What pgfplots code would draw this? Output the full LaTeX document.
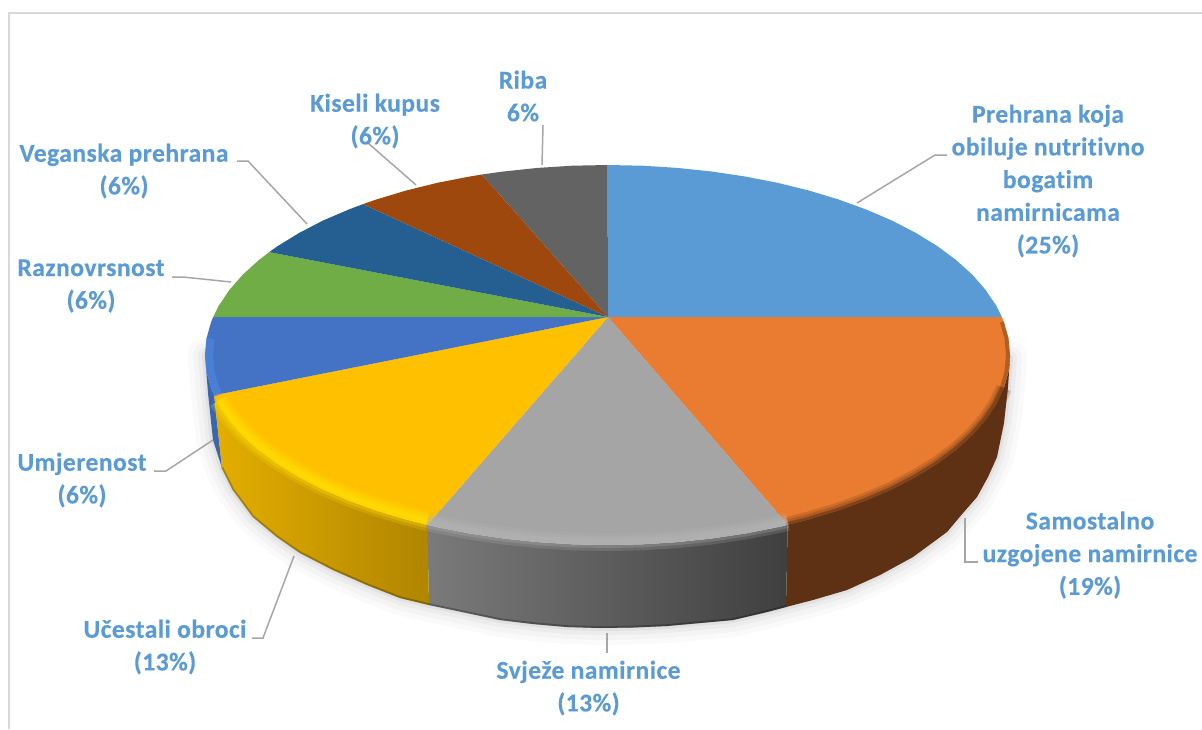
\documentclass[border=0pt]{standalone}
\usepackage{fontspec}
\setmainfont{Carlito}[LetterSpace=1.8,Ligatures=NoCommon,BoldFeatures={FakeBold=0.4}]
\usepackage{pgfplots}
\usepackage{pgfplotstable}
\pgfplotsset{compat=1.18}

\definecolor{lbl}{HTML}{5B9BD5}
\definecolor{lead}{HTML}{A6A6A6}
\definecolor{frm}{HTML}{D9D9D9}
\definecolor{c1}{HTML}{5B9BD5}
\definecolor{c2}{HTML}{E97C30}
\definecolor{c3}{HTML}{A5A5A5}
\definecolor{c4}{HTML}{FFC000}
\definecolor{c5}{HTML}{4472C4}
\definecolor{c6}{HTML}{70AD47}
\definecolor{c7}{HTML}{255E91}
\definecolor{c8}{HTML}{9E480E}
\definecolor{c9}{HTML}{636363}
\definecolor{side2}{HTML}{5F3114}
\definecolor{side5}{HTML}{3A66B0}
\definecolor{sideYL}{HTML}{E4AE00}
\definecolor{sideYR}{HTML}{B08500}
\definecolor{sideGL}{HTML}{7A7A7A}
\definecolor{sideGR}{HTML}{3F3F3F}
\definecolor{hiY}{HTML}{FFE100}
\definecolor{hiB}{HTML}{5087E1}
\definecolor{hiG}{HTML}{B8B8B8}

% slices of the top face: first row is the pie centre, pixel coordinates
\pgfplotstableread{
x y
608 317
607.5 165
642.6 165.7
677.4 167.9
711.7 171.5
745.2 176.5
777.6 182.8
808.8 190.5
838.4 199.4
866.2 209.5
892.1 220.6
915.8 232.9
937.2 246.0
956.1 260
972.3 274.7
985.7 290
996.3 305.8
1001.9 317.1
}\sliceA
\pgfplotstableread{
x y
608 317
1001.9 317.1
1003.9 322.0
1008.5 338.4
1010 355
1008.5 371.6
1003.9 388
996.3 404.2
985.7 420
972.3 435.3
956.1 450
937.2 464
915.8 477.1
892.1 489.4
866.2 500.5
838.4 510.6
808.8 519.5
787.7 524.9
}\sliceB
\pgfplotstableread{
x y
608 317
787.7 524.9
777.6 527.2
745.2 533.5
711.7 538.5
677.4 542.1
642.6 544.3
607.5 545
572.4 544.3
537.6 542.1
503.3 538.5
469.8 533.5
437.4 527.2
427.3 524.9
}\sliceC
\pgfplotstableread{
x y
608 317
427.3 524.9
406.2 519.5
376.6 510.6
348.8 500.5
322.9 489.4
299.2 477.1
277.8 464
258.9 450
242.7 435.3
229.3 420
218.7 404.2
214.1 395.2
}\sliceD
\pgfplotstableread{
x y
608 317
214.1 395.2
211.1 388
206.5 371.6
205 355
206.5 338.4
211.1 322
213.1 317.1
}\sliceE
\pgfplotstableread{
x y
608 317
213.1 317.1
218.7 305.8
229.3 290
242.7 274.7
258.9 260
269.2 252.1
}\sliceF
\pgfplotstableread{
x y
608 317
269.2 252.1
277.8 246
299.2 232.9
322.9 220.6
348.8 209.5
363 204.1
}\sliceG
\pgfplotstableread{
x y
608 317
363 204.1
376.6 199.4
406.2 190.5
437.4 182.8
469.8 176.5
481.8 174.5
}\sliceH
\pgfplotstableread{
x y
608 317
481.8 174.5
503.3 171.5
537.6 167.9
572.4 165.7
607.5 165
}\sliceI

% lower outline of the pie body
\pgfplotstableread{
x y
205 355
208 393
213 440
222 468
233 490
253 517
277 537
300 553
333 570
367 585
400 598
429 605
467 613
500 620
533 624
567 627
600 628
633 627.5
667 626
700 623
733 620
767 612
786 607
813 600
847 590
880 575
913 557
947 532
963 513
977 497
988 477
997 457
1004 423
1008 387
1010 358
}\outline

\begin{document}
\begin{tikzpicture}
\begin{axis}[
    scale only axis,
    width=601pt,
    height=364.5pt,
    xmin=0, xmax=1202,
    ymin=0, ymax=729,
    y dir=reverse,
    hide axis,
]

% keeps the page as large as the axis
\addplot[draw=none] coordinates {(0,0) (1202,729)};
\path (axis cs:0,0) rectangle (axis cs:1202,729);

% chart frame
\addplot[frm, line width=1pt] coordinates {(8.5,729) (8.5,13) (1202,13)};

% soft shadow
\addplot[gray, opacity=0.04, line width=17pt, line join=round, line cap=round] table[x=x,y=y] {\outline};
\addplot[gray, opacity=0.05, line width=12pt, line join=round, line cap=round] table[x=x,y=y] {\outline};
\addplot[gray, opacity=0.07, line width=7pt, line join=round, line cap=round] table[x=x,y=y] {\outline};
\addplot[gray, opacity=0.10, line width=3pt, line join=round, line cap=round] table[x=x,y=y] {\outline};

% side walls
\addplot[fill=side5, draw=none] coordinates {
    (205,355) (206.5,371.6) (211.1,388) (214.1,395.2) (222,468) (213,440) (208,393)
};
\addplot[fill=side2, draw=none] coordinates {
    (1010,355) (1008.5,371.6) (1003.9,388) (996.3,404.2) (985.7,420) (972.3,435.3) (956.1,450)
    (937.2,464) (915.8,477.1) (892.1,489.4) (866.2,500.5) (838.4,510.6) (808.8,519.5) (787.7,524.9)
    (786,607) (813,600) (847,590) (880,575) (913,557) (947,532) (963,513) (977,497) (988,477)
    (997,457) (1004,423) (1008,387) (1010,358)
};
\addplot[left color=sideGL, right color=sideGR, draw=none] coordinates {
    (787.7,524.9) (777.6,527.2) (745.2,533.5) (711.7,538.5) (677.4,542.1) (642.6,544.3) (607.5,545)
    (572.4,544.3) (537.6,542.1) (503.3,538.5) (469.8,533.5) (437.4,527.2) (427.3,524.9)
    (429,605) (467,613) (500,620) (533,624) (567,627) (600,628) (633,627.5) (667,626) (700,623)
    (733,620) (767,612) (786,607)
};
\addplot[left color=sideYL, right color=sideYR, draw=none] coordinates {
    (427.3,524.9) (406.2,519.5) (376.6,510.6) (348.8,500.5) (322.9,489.4) (299.2,477.1) (277.8,464)
    (258.9,450) (242.7,435.3) (229.3,420) (218.7,404.2) (214.1,395.2)
    (222,468) (233,490) (253,517) (277,537) (300,553) (333,570) (367,585) (400,598) (429,605)
};
% darker lower edge of the grey and yellow walls
\addplot[black, opacity=0.25, line width=1pt, yshift=0.4pt, skip coords between index={0}{3}, skip coords between index={23}{35}] table[x=x,y=y] {\outline};

% top face
\addplot[fill=c1, draw=none] table[x=x,y=y] {\sliceA};
\addplot[fill=c2, draw=none] table[x=x,y=y] {\sliceB};
\addplot[fill=c3, draw=none] table[x=x,y=y] {\sliceC};
\addplot[fill=c4, draw=none] table[x=x,y=y] {\sliceD};
\addplot[fill=c5, draw=none] table[x=x,y=y] {\sliceE};
\addplot[fill=c6, draw=none] table[x=x,y=y] {\sliceF};
\addplot[fill=c7, draw=none] table[x=x,y=y] {\sliceG};
\addplot[fill=c8, draw=none] table[x=x,y=y] {\sliceH};
\addplot[fill=c9, draw=none] table[x=x,y=y] {\sliceI};

% rim of the top face
\addplot[side2, opacity=0.2, line width=8pt, skip coords between index={0}{6}] table[x=x,y=y] {\sliceB};
\addplot[side2, opacity=0.25, line width=5.5pt, skip coords between index={0}{6}] table[x=x,y=y] {\sliceB};
\addplot[side2, opacity=0.3, line width=3pt, skip coords between index={0}{6}] table[x=x,y=y] {\sliceB};
\addplot[side2, opacity=0.4, line width=2pt, xshift=-1pt, skip coords between index={0}{2}] table[x=x,y=y] {\sliceB};
\addplot[hiG, opacity=0.2, line width=9pt, yshift=1.5pt, skip coords between index={0}{1}] table[x=x,y=y] {\sliceC};
\addplot[hiG, opacity=0.25, line width=6pt, yshift=1.5pt, skip coords between index={0}{1}] table[x=x,y=y] {\sliceC};
\addplot[hiG, opacity=0.3, line width=3pt, yshift=1.5pt, skip coords between index={0}{1}] table[x=x,y=y] {\sliceC};
\addplot[hiY, opacity=0.2, line width=10pt, yshift=2pt, skip coords between index={0}{1}, skip coords between index={12}{13}] table[x=x,y=y] {\sliceD};
\addplot[hiY, opacity=0.3, line width=7pt, yshift=2pt, skip coords between index={0}{1}, skip coords between index={12}{13}] table[x=x,y=y] {\sliceD};
\addplot[hiY, opacity=0.35, line width=4pt, yshift=2pt, skip coords between index={0}{1}, skip coords between index={12}{13}] table[x=x,y=y] {\sliceD};
\addplot[hiY, opacity=0.4, line width=1.5pt, yshift=2pt, skip coords between index={0}{1}, skip coords between index={12}{13}] table[x=x,y=y] {\sliceD};
\addplot[hiB, opacity=0.6, line width=4pt, xshift=2pt, skip coords between index={0}{1}, skip coords between index={6}{8}] table[x=x,y=y] {\sliceE};

% leader lines
\addplot[lead, line width=0.75pt] coordinates {(857,203) (935,155) (947,155)};
\addplot[lead, line width=0.75pt] coordinates {(965,518) (965,562) (978,562)};
\addplot[lead, line width=0.75pt] coordinates {(607,633) (607,653)};
\addplot[lead, line width=0.75pt] coordinates {(294,556) (263,638) (252,638)};
\addplot[lead, line width=0.75pt] coordinates {(213,440) (166,471) (154,471)};
\addplot[lead, line width=0.75pt] coordinates {(231,282) (183,277) (172,277)};
\addplot[lead, line width=0.75pt] coordinates {(307,224) (248,161) (237,161)};
\addplot[lead, line width=0.75pt] coordinates {(368,143) (416,185)};
\addplot[lead, line width=0.75pt] coordinates {(543,125) (542,165)};

% data labels
\tikzset{lab/.style={text=lbl, align=center, inner sep=0pt, font=\fontsize{12.8}{16.35}\selectfont\bfseries}}
\node[lab] at (axis cs:1048,181) {Prehrana koja\\obiluje nutritivno\\bogatim\\namirnicama\\(25\%)};
\node[lab] at (axis cs:1090,555) {Samostalno\\uzgojene namirnice\\(19\%)};
\node[lab] at (axis cs:588.5,688) {Svježe namirnice\\(13\%)};
\node[lab] at (axis cs:165,647) {Učestali obroci\\(13\%)};
\node[lab] at (axis cs:82,480) {Umjerenost\\(6\%)};
\node[lab] at (axis cs:91,286) {Raznovrsnost\\(6\%)};
\node[lab] at (axis cs:124,171) {Veganska prehrana\\(6\%)};
\node[lab] at (axis cs:375,121) {Kiseli kupus\\(6\%)};
\node[lab] at (axis cs:523,96) {Riba\\6\%};

\end{axis}
\end{tikzpicture}
\end{document}
